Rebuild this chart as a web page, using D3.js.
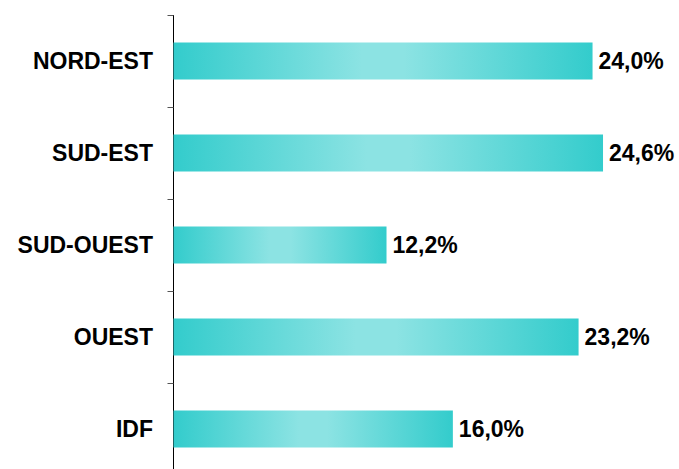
<!DOCTYPE html>
<html>
<head>
<meta charset="utf-8">
<script src="https://cdn.jsdelivr.net/npm/d3@7"></script>
<style>
body { margin: 0; background: #fff; }
text { font-family: "Liberation Sans", Arial, sans-serif; font-weight: bold; }
</style>
</head>
<body>
<div id="chart"></div>
<script>
var width = 679;
var height = 469;

var categories = ["NORD-EST", "SUD-EST", "SUD-OUEST", "OUEST", "IDF"];
var values = [24.0, 24.6, 12.2, 23.2, 16.0];

var svg = d3.select("#chart")
    .append("svg")
    .attr("width", width)
    .attr("height", height);

var defs = svg.append("defs");
var grad = defs.append("linearGradient")
    .attr("id", "barGrad")
    .attr("x1", "0%").attr("x2", "100%")
    .attr("y1", "0%").attr("y2", "0%");
grad.append("stop").attr("offset", "0%").attr("stop-color", "#33cccc");
grad.append("stop").attr("offset", "45%").attr("stop-color", "#8ce3e3");
grad.append("stop").attr("offset", "55%").attr("stop-color", "#8ce3e3");
grad.append("stop").attr("offset", "100%").attr("stop-color", "#33cccc");

var x0 = 173.5;
var x = d3.scaleLinear().domain([0, 30]).range([x0, x0 + 30 * 17.46]);
var yb = d3.scaleBand().domain(categories).range([15, 475]);

// axis line
svg.append("line")
    .attr("x1", x0).attr("x2", x0)
    .attr("y1", 15).attr("y2", height)
    .attr("stroke", "#000").attr("stroke-width", 1);

// ticks between categories
var tickYs = [15].concat(categories.map(function(c){ return yb(c) + yb.bandwidth(); }));
svg.selectAll(".tick")
    .data(tickYs)
    .enter().append("line")
    .attr("x1", x0 - 6).attr("x2", x0)
    .attr("y1", function(d){ return Math.round(d) + 0.5; })
    .attr("y2", function(d){ return Math.round(d) + 0.5; })
    .attr("stroke", "#555");

var bh = 37;
svg.selectAll(".bar")
    .data(values)
    .enter().append("rect")
    .attr("class", "bar")
    .attr("x", x0)
    .attr("y", function(d, i){ return yb(categories[i]) + (yb.bandwidth() - bh) / 2; })
    .attr("width", function(d){ return x(d) - x0; })
    .attr("height", bh)
    .attr("fill", "url(#barGrad)");

svg.selectAll(".val")
    .data(values)
    .enter().append("text")
    .attr("x", function(d){ return x(d) + 6; })
    .attr("y", function(d, i){ return yb(categories[i]) + yb.bandwidth() / 2; })
    .attr("dy", "0.35em")
    .attr("font-size", 23)
    .attr("fill", "#000")
    .text(function(d){ return d.toFixed(1).replace(".", ",") + "%"; });

svg.selectAll(".cat")
    .data(categories)
    .enter().append("text")
    .attr("x", 153)
    .attr("y", function(d){ return yb(d) + yb.bandwidth() / 2; })
    .attr("dy", "0.35em")
    .attr("text-anchor", "end")
    .attr("font-size", 23)
    .attr("fill", "#000")
    .text(function(d){ return d; });
</script>
</body>
</html>
